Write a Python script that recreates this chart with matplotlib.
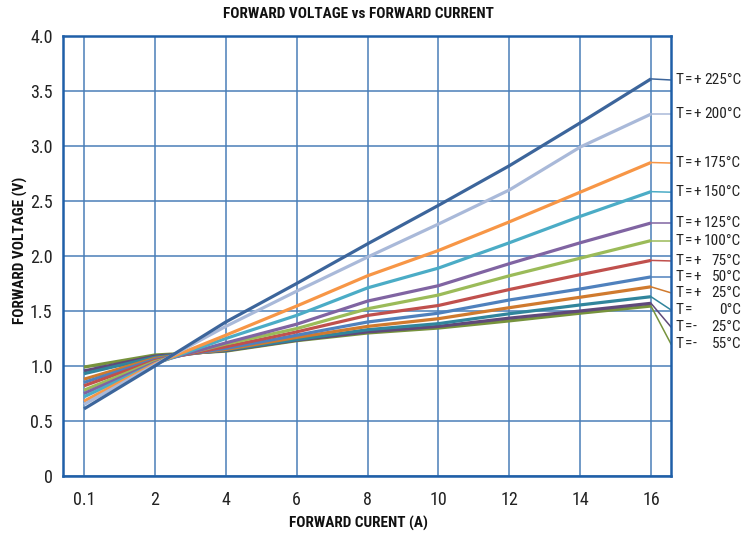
import matplotlib
matplotlib.use("Agg")
import matplotlib.pyplot as plt
from matplotlib import font_manager as fm
from matplotlib.font_manager import FontProperties

# ---- font selection: prefer a condensed/narrow sans face ----
def find_condensed():
    cands = {}
    for f in fm.fontManager.ttflist:
        st = str(f.stretch).lower()
        nm = f.name + ' ' + f.fname
        if ('condensed' in st and 'semi' not in st and 'extra' not in st and 'ultra' not in st) \
                or 'Narrow' in nm or ('Condensed' in nm and 'Semi' not in nm and 'Extra' not in nm):
            if str(f.style).lower() != 'normal':
                continue
            w = f.weight
            try:
                w = int(w)
            except Exception:
                w = {'normal': 400, 'regular': 400, 'bold': 700}.get(str(w).lower(), 400)
            d = cands.setdefault(f.name, {})
            if w == 400:
                d['reg'] = f.fname
            elif w == 700:
                d['bold'] = f.fname
    pref = ['Roboto Condensed', 'Liberation Sans Narrow', 'Noto Sans', 'Open Sans Condensed',
            'Open Sans', 'Noto Sans Condensed', 'Roboto']
    for p in pref + list(cands):
        d = cands.get(p)
        if d and 'reg' in d and 'bold' in d:
            return FontProperties(fname=d['reg']), FontProperties(fname=d['bold']), True
    return FontProperties(family='Liberation Sans'), FontProperties(family='Liberation Sans', weight='bold'), False

FP_REG, FP_BOLD, CONDENSED = find_condensed()

categories = ['0.1', '2', '4', '6', '8', '10', '12', '14', '16']

temps = ['+225', '+200', '+175', '+150', '+125', '+100', '+75', '+50', '+25', '0', '-25', '-55']
v_p225 = [0.61, 1.00, 1.40, 1.75, 2.11, 2.46, 2.82, 3.21, 3.61]
v_p200 = [0.65, 1.01, 1.36, 1.68, 1.99, 2.29, 2.60, 2.99, 3.29]
v_p175 = [0.68, 1.02, 1.28, 1.545, 1.82, 2.05, 2.31, 2.58, 2.85]
v_p150 = [0.72, 1.02, 1.25, 1.46, 1.71, 1.89, 2.12, 2.36, 2.585]
v_p125 = [0.75, 1.03, 1.21, 1.38, 1.59, 1.73, 1.93, 2.12, 2.30]
v_p100 = [0.78, 1.04, 1.20, 1.34, 1.52, 1.645, 1.82, 1.98, 2.14]
v_p75 = [0.82, 1.05, 1.175, 1.31, 1.46, 1.55, 1.695, 1.83, 1.96]
v_p50 = [0.85, 1.06, 1.16, 1.28, 1.40, 1.48, 1.60, 1.70, 1.81]
v_p25 = [0.88, 1.07, 1.15, 1.26, 1.36, 1.43, 1.53, 1.625, 1.72]
v_0 = [0.93, 1.08, 1.145, 1.24, 1.33, 1.385, 1.475, 1.555, 1.63]
v_m25 = [0.955, 1.09, 1.14, 1.235, 1.31, 1.36, 1.435, 1.50, 1.57]
v_m55 = [0.99, 1.10, 1.135, 1.23, 1.30, 1.345, 1.41, 1.48, 1.545]
series = [v_p225, v_p200, v_p175, v_p150, v_p125, v_p100, v_p75, v_p50, v_p25, v_0, v_m25, v_m55]

colors = ['#3C659B', '#A9B9D9', '#F79646', '#4BACC6', '#8064A2', '#9BBB59',
          '#C0504D', '#4F81BD', '#D07A2E', '#31859C', '#60497A', '#77933C']
# label vertical placement (layout)
label_y = [3.60, 3.29, 2.845, 2.58, 2.30, 2.14, 1.955, 1.81, 1.665, 1.51, 1.355, 1.20]

W, H = 742, 537
fig = plt.figure(figsize=(W / 100, H / 100), dpi=100)
ax = fig.add_axes([63 / W, 1 - 476 / H, (671 - 63) / W, (476 - 36) / H])

x = list(range(len(categories)))
for vals, c in zip(series[::-1], colors[::-1]):
    ax.plot(x, vals, color=c, lw=2.3, solid_capstyle='butt', zorder=3)

xr = 8 + 20 / 70.875
ax.set_xlim(-21 / 70.875, xr)
ax.set_ylim(0, 4.0)
ax.set_xticks(x)
yt = [i * 0.5 for i in range(9)]
ax.set_yticks(yt)
TS = 13 if CONDENSED else 11.5
ax.set_xticklabels(categories, fontproperties=FP_REG, fontsize=TS)
ax.set_yticklabels(['0'] + ['%.1f' % v for v in yt[1:]], fontproperties=FP_REG, fontsize=TS)
ax.tick_params(length=0, colors='#222222')
ax.tick_params(axis='y', pad=7.5)
ax.tick_params(axis='x', pad=11)
ax.grid(True, color='#4a7fb8', lw=1.1, zorder=1)
for s in ax.spines.values():
    s.set_color('#1f5fa8')
    s.set_linewidth(1.8)

LS = 11 if CONDENSED else 10
for vals, c, ly, t in zip(series, colors, label_y, temps):
    ax.plot([8, xr], [vals[-1], ly], color=c, lw=1.1, clip_on=False, zorder=2)
    kw = dict(va='center', fontproperties=FP_REG, fontsize=LS, color='#222222',
              annotation_clip=False, textcoords='offset pixels')
    digits = t.lstrip('+-')
    sign = t[0] if t[0] in '+-' else ''
    ax.annotate('T', xy=(xr, ly), xytext=(4, 0), ha='left', **kw)
    ax.annotate('=', xy=(xr, ly), xytext=(13.5, 0), ha='left', **kw)
    if sign:
        ax.annotate(sign, xy=(xr, ly), xytext=(22, 0), ha='left', **kw)
    ax.annotate(digits + '°C', xy=(xr, ly), xytext=(70, 0), ha='right', **kw)

BS = 11 if CONDENSED else 10
fig.text(358 / W, 1 - 14 / H, 'FORWARD VOLTAGE vs FORWARD CURRENT', ha='center', va='center',
         fontproperties=FP_BOLD, fontsize=BS, color='#111111')
fig.text(358 / W, 1 - 523 / H, 'FORWARD CURENT (A)', ha='center', va='center',
         fontproperties=FP_BOLD, fontsize=BS, color='#111111')
fig.text(20 / W, 1 - 250 / H, 'FORWARD VOLTAGE (V)', ha='center', va='center', rotation=90,
         fontproperties=FP_BOLD, fontsize=BS, color='#111111')

fig.savefig('out.png', dpi=100, facecolor='white')
